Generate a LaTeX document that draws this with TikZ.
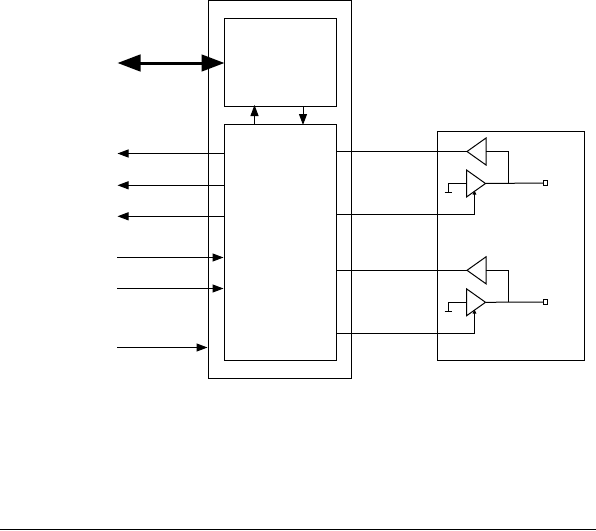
\documentclass[tikz,border=0pt]{standalone}
\usetikzlibrary{arrows.meta,shapes.geometric}
\tikzset{
  blockbox/.style={draw,rectangle,inner sep=0pt,outer sep=0pt,anchor=north west},
  conn/.style={draw},
  sigarrow/.style={conn,-{Triangle[length=11pt,width=8pt]}},
  fatarrow/.style={draw,line width=3pt,{Triangle[length=23pt,width=16.5pt]}-{Triangle[length=23pt,width=16.5pt]}},
  enarrow/.style={conn,-{Triangle[length=4pt,width=3.5pt]}},
  drvamp/.style={draw,isosceles triangle,isosceles triangle stretches,inner sep=0pt,outer sep=0pt,
     minimum width=27pt,minimum height=19pt},
  padbox/.style={draw,rectangle,inner sep=0pt,outer sep=0pt,minimum width=4.5pt,minimum height=5pt,anchor=west},
}
\begin{document}
\begin{tikzpicture}[x=1pt,y=-1pt,line width=1pt]
\useasboundingbox (0,0) rectangle (596,530);
% blocks
\node[blockbox,minimum width=143pt,minimum height=378pt] (outer) at (208.5,0.5) {};
\node[blockbox,minimum width=111.5pt,minimum height=87.5pt] (mem) at (224.5,18.5) {};
\node[blockbox,minimum width=111.5pt,minimum height=235.5pt] (ctrl) at (224.5,124.5) {};
\node[blockbox,minimum width=147pt,minimum height=229.5pt] (port) at (437.5,131) {};
% memory <-> controller
\coordinate (busL) at (117.5,63);
\draw[fatarrow] (busL) -- (mem.west |- busL);
\coordinate (upM) at (254.5,106);
\coordinate (dnM) at (303,106);
\draw[sigarrow] (ctrl.north -| upM) -- ([yshift=1pt]mem.south -| upM);
\draw[sigarrow] (mem.south -| dnM) -- ([yshift=-0.5pt]ctrl.north -| dnM);
% left signals
\coordinate (o1) at (117.5,153.5);
\coordinate (o2) at (117.5,185.3);
\coordinate (o3) at (117.5,216.3);
\coordinate (i1) at (117,257.5);
\coordinate (i2) at (117,288.5);
\coordinate (i3) at (117,347.5);
\draw[sigarrow] (ctrl.west |- o1) -- (o1);
\draw[sigarrow] (ctrl.west |- o2) -- (o2);
\draw[sigarrow] (ctrl.west |- o3) -- (o3);
\draw[sigarrow,shorten >=1pt] (i1) -- (ctrl.west |- i1);
\draw[sigarrow,shorten >=1pt] (i2) -- (ctrl.west |- i2);
\draw[sigarrow,shorten >=1pt] (i3) -- (outer.west |- i3);
% port 1
\node[drvamp,rotate=180,anchor=apex] (rxA) at (467,151.5) {};
\node[drvamp,anchor=apex] (txA) at (485.5,183.5) {};
\node[padbox] (padA) at (543,183) {};
\coordinate (jA) at (508.5,183.5);
\coordinate (gA) at (448.5,192);
\coordinate (gAl) at (444.5,192);
\coordinate (gAr) at (452,192);
\coordinate (enA) at (474.5,214);
\draw[conn] (ctrl.east |- rxA.apex) -- (rxA.apex);
\draw[conn] (485.5,151.5) -| (jA);
\draw[conn] (txA.apex) -- (padA.west);
\draw[conn] (466.5,183.5) -| (gA);
\draw[conn] (gAl) -- (gAr);
\draw[enarrow] (ctrl.east |- enA) -- (enA) -- (474.5,190.5);
% port 2
\node[drvamp,rotate=180,anchor=apex] (rxB) at (467,270.3) {};
\node[drvamp,anchor=apex] (txB) at (485.5,302.3) {};
\node[padbox] (padB) at (543,302) {};
\coordinate (jB) at (508.5,302.3);
\coordinate (gB) at (448.5,311.3);
\coordinate (gBl) at (444.5,311.3);
\coordinate (gBr) at (452,311.3);
\coordinate (enB) at (474.5,333.3);
\draw[conn] (ctrl.east |- rxB.apex) -- (rxB.apex);
\draw[conn] (485.5,270.3) -| (jB);
\draw[conn] (txB.apex) -- (padB.west);
\draw[conn] (466.5,302.3) -| (gB);
\draw[conn] (gBl) -- (gBr);
\draw[enarrow] (ctrl.east |- enB) -- (enB) -- (474.5,309.5);
% bottom rule
\coordinate (ruleL) at (0,529.3);
\coordinate (ruleR) at (596,529.3);
\draw[conn] (ruleL) -- (ruleR);
\end{tikzpicture}
\end{document}
